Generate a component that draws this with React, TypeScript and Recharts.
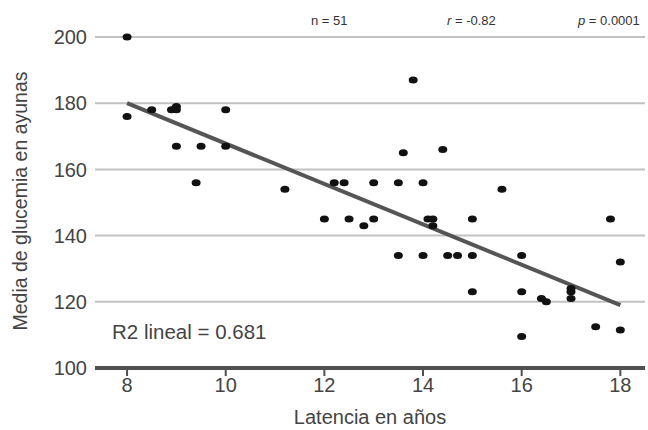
import { ScatterChart, Scatter, XAxis, YAxis, CartesianGrid, ReferenceLine } from 'recharts';

// values
const latencia = [
  8, 8, 8.5, 8.9, 9.0, 9.0, 10, 9.0, 9.5, 10, 9.4, 11.2, 12, 12.2, 12.4, 12.5,
  12.8, 13, 13, 13.5, 13.5, 13.6, 13.8, 14, 14, 14.1, 14.2, 14.2, 14.4, 14.5,
  14.7, 15, 15, 15, 15.6, 16, 16, 16, 16.4, 16.5, 17, 17, 17, 17.5, 17.8, 18, 18,
];
const glucemia = [
  200, 176, 178, 178, 179, 178, 178, 167, 167, 167, 156, 154, 145, 156, 156, 145,
  143, 156, 145, 156, 134, 165, 187, 156, 134, 145, 145, 143, 166, 134,
  134, 145, 134, 123, 154, 134, 123, 109.5, 121, 120, 124, 123, 121, 112.5, 145, 132, 111.5,
];
const xTicks = [8, 10, 12, 14, 16, 18];
const yTicks = [100, 120, 140, 160, 180, 200];
const fitX = [8, 18];
const fitY = [180, 119];

const points = latencia.map((x, i) => ({ x, y: glucemia[i] }));

const Dot = (props: any) => <ellipse cx={props.cx} cy={props.cy} rx={4.5} ry={3.5} fill="#111" />;

const App = () => {
  return (
    <div
      style={{
        position: 'absolute',
        left: 0,
        top: 0,
        width: 648,
        height: 430,
        background: '#fff',
        overflow: 'hidden',
        fontFamily: '"Liberation Sans", Arial, sans-serif',
      }}
    >
      <ScatterChart width={648} height={430} margin={{ top: 37, right: 3, left: 0, bottom: 0 }}>
        <CartesianGrid vertical={false} stroke="#c2c2c2" strokeWidth={2} />
        <XAxis
          type="number"
          dataKey="x"
          domain={[7.35, 18.5]}
          ticks={xTicks}
          allowDataOverflow
          height={62}
          axisLine={{ stroke: '#505050', strokeWidth: 4 }}
          tickLine={{ stroke: '#505050', strokeWidth: 2 }}
          tickSize={8}
          tick={{ fill: '#444', fontSize: 20 }}
          label={{ value: 'Latencia en años', position: 'insideBottom', offset: 6, fill: '#444', fontSize: 20 }}
        />
        <YAxis
          type="number"
          dataKey="y"
          domain={[100, 200]}
          ticks={yTicks}
          width={95}
          axisLine={false}
          tickLine={false}
          tick={{ fill: '#444', fontSize: 20 }}
        />
        <ReferenceLine
          segment={[{ x: fitX[0], y: fitY[0] }, { x: fitX[1], y: fitY[1] }]}
          stroke="#555"
          strokeWidth={4}
        />
        <Scatter data={points} shape={Dot} isAnimationActive={false} />
      </ScatterChart>

      <div
        style={{
          position: 'absolute',
          left: 20,
          top: 201,
          transform: 'translate(-50%, -50%) rotate(-90deg)',
          whiteSpace: 'nowrap',
          fontSize: 19.5,
          color: '#444',
        }}
      >
        Media de glucemia en ayunas
      </div>
      <div style={{ position: 'absolute', left: 112, top: 320, fontSize: 20.5, color: '#444' }}>
        R2 lineal = 0.681
      </div>
      <div
        style={{
          position: 'absolute',
          top: 13,
          left: 0,
          width: 700,
          fontSize: 13,
          color: '#333',
          fontFamily: '"Liberation Sans Narrow", "Liberation Sans", Arial, sans-serif',
        }}
      >
        <span style={{ position: 'absolute', left: 311 }}>n = 51</span>
        <span style={{ position: 'absolute', left: 447 }}>
          <i>r</i> = -0.82
        </span>
        <span style={{ position: 'absolute', left: 578, whiteSpace: 'nowrap' }}>
          <i>p</i> = 0.0001
        </span>
      </div>
    </div>
  );
};

export default App;
